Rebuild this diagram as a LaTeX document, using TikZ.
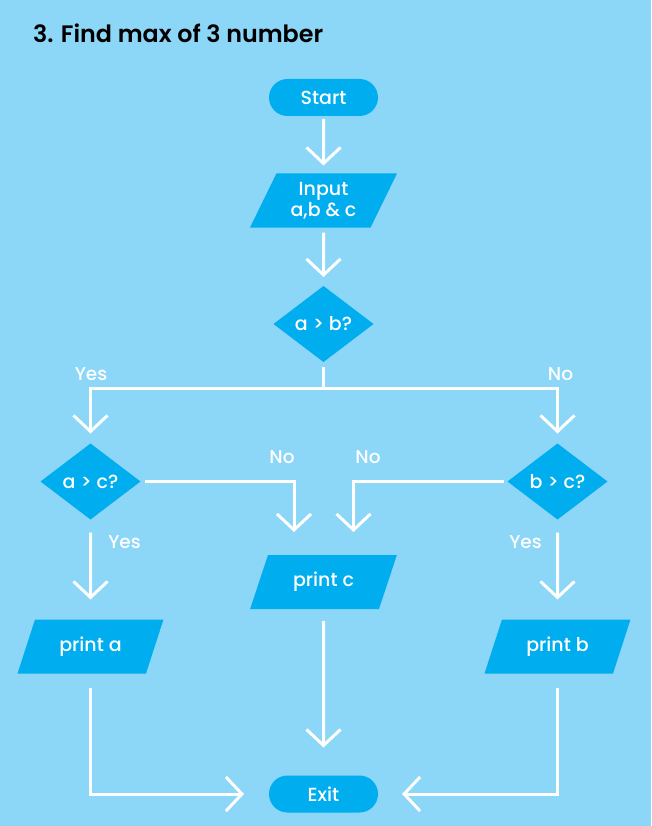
\documentclass[tikz,border=0pt]{standalone}
\usepackage{fontspec}
\setmainfont{Poppins}
\newfontfamily\medfont{Poppins Medium}
\newfontfamily\semifont{Poppins SemiBold}
\usetikzlibrary{shapes.geometric,arrows.meta,calc}
\definecolor{bgblue}{HTML}{8CD6F7}
\definecolor{boxblue}{HTML}{00AEEF}
\begin{document}
\begin{tikzpicture}[x=1pt,y=-1pt,
  every node/.style={inner sep=0pt, outer sep=0pt},
  boxtext/.style={text=white, font=\medfont\fontsize{19}{21}\selectfont, align=center},
  terminal/.style={boxtext, fill=boxblue, rectangle, rounded corners=18.5pt, minimum width=109pt, minimum height=37pt},
  io/.style={boxtext, fill=boxblue, trapezium, trapezium left angle=63.4, trapezium right angle=116.6, trapezium stretches=true, minimum width=147pt, minimum height=54pt},
  decision/.style={boxtext, fill=boxblue, diamond, minimum width=100pt, minimum height=76pt},
  lbl/.style={text=white, font=\medfont\fontsize{18.5}{21}\selectfont},
  arr/.style={draw=white, line width=3pt, -{Straight Barb[length=16pt, width=34pt, line width=3pt]}}
]
\fill[bgblue] (0,0) rectangle (651,826);
\useasboundingbox (0,0) rectangle (651,826);

\node[anchor=base west, font=\semifont\fontsize{23.8}{28}\selectfont] (title) at (33,43) {3. Find max of 3 number};

\node[terminal] (start) at (323.5,97.5) {Start};
\node[io] (input) at (323.5,200.5) {Input\\a,b \& c};
\node[decision] (dab) at (323.5,324) {a > b?};
\node[decision] (dac) at (90.5,481.5) {a > c?};
\node[decision] (dbc) at (557.5,481.5) {b > c?};
\node[io] (pc) at (323.5,582) {print c};
\node[io] (pa) at (90.5,646.5) {print a};
\node[io] (pb) at (557.5,646.5) {print b};
\node[terminal] (exit) at (323.5,794) {Exit};

\node[lbl] (yes1) at (91,374) {Yes};
\node[lbl] (no1) at (560.5,374) {No};
\node[lbl] (no2) at (282,457) {No};
\node[lbl] (no3) at (368,457) {No};
\node[lbl] (yes2) at (124.5,542) {Yes};
\node[lbl] (yes3) at (525.5,542) {Yes};

\draw[arr, shorten <=3pt, shorten >=8pt] (start.south) -- (input.north);
\draw[arr, shorten <=5pt, shorten >=9pt] (input.south) -- (dab.north);
\draw[arr, shorten <=5pt, shorten >=10pt] (dab.south) -- ++(0,26) -| (dac.north);
\draw[arr, shorten <=5pt, shorten >=10pt] (dab.south) -- ++(0,26) -| (dbc.north);
\draw[arr, shorten <=4pt, shorten >=23pt] (dac.east) -| ([xshift=-29.5pt]pc.north);
\draw[arr, shorten <=4pt, shorten >=23pt] (dbc.west) -| ([xshift=30pt]pc.north);
\draw[arr, shorten <=13pt, shorten >=20pt] (dac.south) -- (pa.north);
\draw[arr, shorten <=13pt, shorten >=20pt] (dbc.south) -- (pb.north);
\draw[arr, shorten <=12pt, shorten >=28pt] (pc.south) -- (exit.north);
\draw[arr, shorten <=14pt, shorten >=25pt] (pa.south) |- (exit.west);
\draw[arr, shorten <=14pt, shorten >=24pt] (pb.south) |- (exit.east);
\end{tikzpicture}
\end{document}
